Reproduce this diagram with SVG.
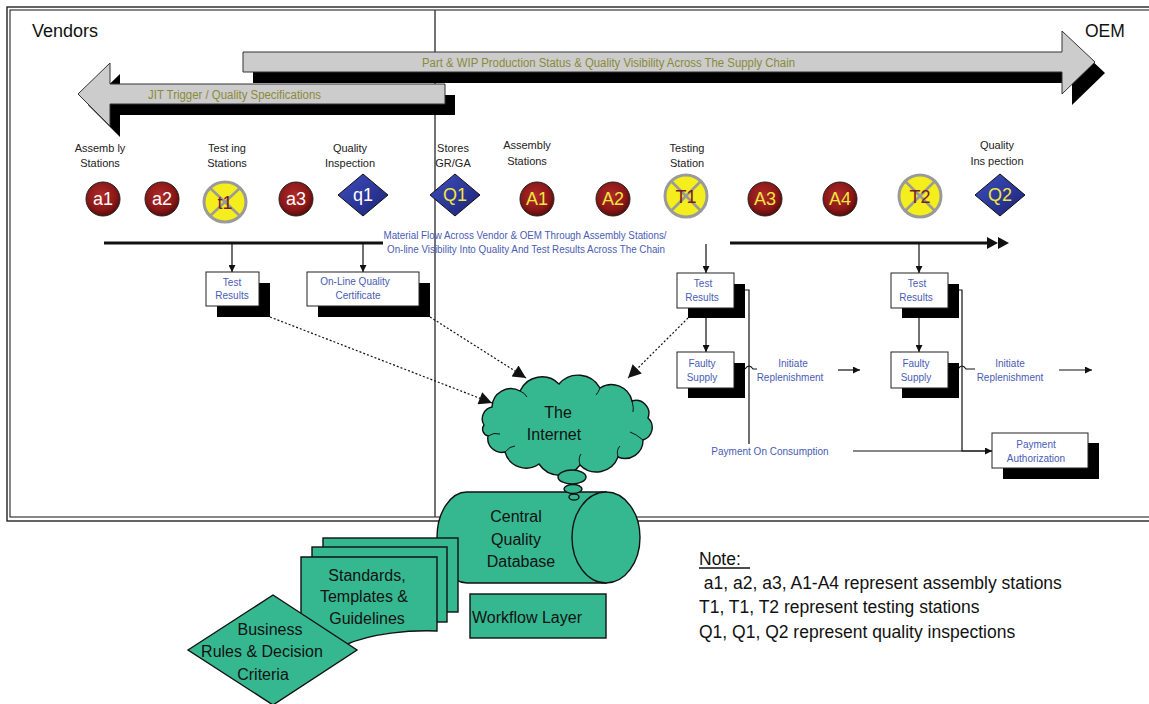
<svg xmlns="http://www.w3.org/2000/svg" width="1149" height="704" viewBox="0 0 1149 704">
<defs>
<style>
text{font-family:"Liberation Sans",Arial,sans-serif}
.lbl{font-size:11px;fill:#222;text-anchor:middle}
.blue{font-size:10px;fill:#4a5cb4;text-anchor:middle}
.olive{font-size:12px;fill:#8a8a3a}
.big{font-size:16px;fill:#111;text-anchor:middle}
.note{font-size:17.5px;fill:#111}
.box{fill:#fff;stroke:#222;stroke-width:1}
.sh{fill:#000}
.grn{fill:#35b890;stroke:#111;stroke-width:1.4}
.red{fill:url(#gRed);stroke:#222;stroke-width:1}
.yel{fill:#f4ee1c;stroke:#9a9a9a;stroke-width:3}
.x{stroke:#9a9a9a;stroke-width:2.5}
.dia{fill:url(#gBlue);stroke:#111;stroke-width:1}
.nt{font-size:18px;text-anchor:middle}
.ln{stroke:#111;stroke-width:1.2;fill:none}
.dot{stroke:#111;stroke-width:1.2;fill:none;stroke-dasharray:2,2}
.curl{stroke:#111;stroke-width:1;fill:none}
</style>
<radialGradient id="gRed" cx="45%" cy="40%" r="60%"><stop offset="0" stop-color="#b02a2a"/><stop offset="0.7" stop-color="#8a1818"/><stop offset="1" stop-color="#5a0a0a"/></radialGradient>
<linearGradient id="gBlue" x1="0" y1="0" x2="1" y2="1"><stop offset="0" stop-color="#3f4fbf"/><stop offset="1" stop-color="#1b2275"/></linearGradient>
<marker id="ah" viewBox="0 0 10 10" refX="10" refY="5" markerWidth="8" markerHeight="7" markerUnits="userSpaceOnUse" orient="auto"><path d="M0,0 L10,5 L0,10 Z" fill="#111"/></marker>
<marker id="ahb" viewBox="0 0 10 10" refX="10" refY="5" markerWidth="15" markerHeight="13" markerUnits="userSpaceOnUse" orient="auto"><path d="M0,0 L10,5 L0,10 Z" fill="#111"/></marker>
</defs>
<rect width="1149" height="704" fill="#fff"/>

<g id="frame">
<rect x="7" y="7" width="1160" height="514" fill="none" stroke="#111" stroke-width="1.3"/>
<rect x="10" y="10" width="1160" height="507" fill="none" stroke="#111" stroke-width="1"/>
<line x1="435" y1="10" x2="435" y2="517" stroke="#444" stroke-width="1.5"/>
<text x="32" y="37" font-size="18" fill="#111">Vendors</text>
<text x="1085" y="37" font-size="17.5" fill="#111">OEM</text>
</g>

<g id="arrow-visibility">
<polygon class="sh" points="253,63 1072,63 1072,42 1105,73 1072,105 1072,83 253,83"/>
<polygon points="243,52 1062,52 1062,31 1095,62 1062,94 1062,72 243,72" fill="#cccccc" stroke="#333" stroke-width="1"/>
<text class="olive" x="422" y="67" textLength="373" lengthAdjust="spacingAndGlyphs">Part &amp; WIP Production Status &amp; Quality Visibility Across The Supply Chain</text>
</g>
<g id="arrow-jit">
<polygon class="sh" points="455,95 120,95 120,74 88,105 120,137 120,115 455,115"/>
<polygon points="445,84 110,84 110,63 78,94 110,126 110,104 445,104" fill="#cccccc" stroke="#333" stroke-width="1"/>
<text class="olive" x="148" y="99" textLength="173" lengthAdjust="spacingAndGlyphs">JIT Trigger / Quality Specifications</text>
</g>

<g id="station-labels">
<text class="lbl" x="100" y="152">Assemb ly</text><text class="lbl" x="100" y="167">Stations</text>
<text class="lbl" x="227" y="152">Test ing</text><text class="lbl" x="227" y="167">Stations</text>
<text class="lbl" x="350" y="152">Quality</text><text class="lbl" x="350" y="167">Inspection</text>
<text class="lbl" x="453" y="152">Stores</text><text class="lbl" x="453" y="167">GR/GA</text>
<text class="lbl" x="527" y="149">Assembly</text><text class="lbl" x="527" y="165">Stations</text>
<text class="lbl" x="687" y="152">Testing</text><text class="lbl" x="687" y="167">Station</text>
<text class="lbl" x="997" y="149">Quality</text><text class="lbl" x="997" y="165">Ins pection</text>
</g>

<g id="a1"><circle class="red" cx="103" cy="199" r="17"/><text class="nt" x="103" y="205" fill="#fff">a1</text></g>
<g id="a2"><circle class="red" cx="162" cy="199" r="17"/><text class="nt" x="162" y="205" fill="#fff">a2</text></g>
<g id="t1"><ellipse class="yel" cx="225" cy="202" rx="21" ry="20"/><line class="x" x1="210" y1="188" x2="240" y2="216"/><line class="x" x1="240" y1="188" x2="210" y2="216"/><text class="nt" x="225" y="209" fill="#7a1c1c">t1</text></g>
<g id="a3"><circle class="red" cx="296" cy="199" r="17"/><text class="nt" x="296" y="205" fill="#fff">a3</text></g>
<g id="q1"><polygon class="dia" points="338,195 363,174 388,195 363,216"/><text class="nt" x="363" y="201" fill="#fff">q1</text></g>
<g id="Q1"><polygon class="dia" points="430,195 455,174 480,195 455,216"/><text class="nt" x="455" y="201" fill="#f2e640">Q1</text></g>
<g id="A1"><circle class="red" cx="537" cy="199" r="17"/><text class="nt" x="537" y="205" fill="#f2e640">A1</text></g>
<g id="A2"><circle class="red" cx="613" cy="199" r="17"/><text class="nt" x="613" y="205" fill="#f2e640">A2</text></g>
<g id="T1"><ellipse class="yel" cx="686" cy="196" rx="21" ry="21"/><line class="x" x1="671" y1="181" x2="701" y2="211"/><line class="x" x1="701" y1="181" x2="671" y2="211"/><text class="nt" x="686" y="203" fill="#7a1c1c">T1</text></g>
<g id="A3"><circle class="red" cx="765" cy="199" r="17"/><text class="nt" x="765" y="205" fill="#f2e640">A3</text></g>
<g id="A4"><circle class="red" cx="840" cy="199" r="17"/><text class="nt" x="840" y="205" fill="#f2e640">A4</text></g>
<g id="T2"><ellipse class="yel" cx="920" cy="196" rx="21" ry="21"/><line class="x" x1="905" y1="181" x2="935" y2="211"/><line class="x" x1="935" y1="181" x2="905" y2="211"/><text class="nt" x="920" y="203" fill="#7a1c1c">T2</text></g>
<g id="Q2"><polygon class="dia" points="975,195 1000,174 1025,195 1000,216"/><text class="nt" x="1000" y="201" fill="#f2e640">Q2</text></g>

<g id="connectors">
<line x1="104" y1="243" x2="383" y2="243" stroke="#111" stroke-width="3"/>
<line x1="730" y1="243" x2="988" y2="243" stroke="#111" stroke-width="3"/>
<polygon points="987,237 998,243 987,249" fill="#111"/>
<polygon points="998,237 1009,243 998,249" fill="#111"/>
<text class="blue" x="525" y="239" textLength="283" lengthAdjust="spacingAndGlyphs">Material Flow Across Vendor &amp; OEM Through Assembly Stations/</text>
<text class="blue" x="526" y="253" textLength="278" lengthAdjust="spacingAndGlyphs">On-line Visibility Into Quality And Test Results Across The Chain</text>
<line class="ln" x1="232" y1="244" x2="232" y2="272" marker-end="url(#ah)"/>
<line class="ln" x1="363" y1="244" x2="363" y2="272" marker-end="url(#ah)"/>
<line class="ln" x1="706" y1="244" x2="706" y2="273" marker-end="url(#ah)"/>
<line class="ln" x1="919" y1="244" x2="919" y2="273" marker-end="url(#ah)"/>
<line class="ln" x1="706" y1="318" x2="706" y2="352" marker-end="url(#ah)"/>
<line class="ln" x1="919" y1="318" x2="919" y2="352" marker-end="url(#ah)"/>
<path class="ln" d="M734,290 H749 V444"/>
<path class="ln" d="M948,290 H962 V451 H992" marker-end="url(#ah)"/>
<path class="ln" d="M853,451 H992"/>
<path class="ln" d="M745,369 Q749,363 753,369 L757,369"/>
<path class="ln" d="M958,369 Q962,363 966,369 L975,369"/>
<line class="ln" x1="838" y1="370" x2="860" y2="370" marker-end="url(#ah)"/>
<line class="ln" x1="1059" y1="370" x2="1092" y2="370" marker-end="url(#ah)"/>
<text class="blue" x="793" y="367">Initiate</text><text class="blue" x="790" y="381">Replenishment</text>
<text class="blue" x="1010" y="367">Initiate</text><text class="blue" x="1010" y="381">Replenishment</text>
<text class="blue" x="770" y="455">Payment On Consumption</text>
<line class="dot" x1="270" y1="317" x2="492" y2="403" marker-end="url(#ahb)"/>
<line class="dot" x1="430" y1="317" x2="526" y2="378" marker-end="url(#ahb)"/>
<line class="dot" x1="688" y1="318" x2="628" y2="378" marker-end="url(#ahb)"/>
</g>

<g id="test-results-v"><rect class="sh" x="217" y="283" width="53" height="34"/><rect class="box" x="206" y="272" width="53" height="34"/><text class="blue" x="232" y="286">Test</text><text class="blue" x="232" y="299">Results</text></g>
<g id="online-cert"><rect class="sh" x="318" y="283" width="112" height="34"/><rect class="box" x="307" y="272" width="112" height="34"/><text class="blue" x="355" y="285">On-Line Quality</text><text class="blue" x="358" y="299">Certificate</text></g>
<g id="test-results-1"><rect class="sh" x="688" y="284" width="57" height="34"/><rect class="box" x="677" y="273" width="57" height="35"/><text class="blue" x="703" y="287">Test</text><text class="blue" x="702" y="301">Results</text></g>
<g id="faulty-1"><rect class="sh" x="688" y="363" width="57" height="35"/><rect class="box" x="677" y="352" width="57" height="36"/><text class="blue" x="702" y="367">Faulty</text><text class="blue" x="702" y="381">Supply</text></g>
<g id="test-results-2"><rect class="sh" x="902" y="284" width="57" height="34"/><rect class="box" x="891" y="273" width="57" height="35"/><text class="blue" x="917" y="287">Test</text><text class="blue" x="916" y="301">Results</text></g>
<g id="faulty-2"><rect class="sh" x="902" y="363" width="57" height="35"/><rect class="box" x="891" y="352" width="57" height="36"/><text class="blue" x="916" y="367">Faulty</text><text class="blue" x="916" y="381">Supply</text></g>
<g id="payment-auth"><rect class="sh" x="1003" y="443" width="96" height="36"/><rect class="box" x="992" y="433" width="96" height="35"/><text class="blue" x="1036" y="448">Payment</text><text class="blue" x="1036" y="462">Authorization</text></g>

<g id="internet">
<path class="grn" d="M484,425 A12,12 0 0 1 492,407 A19,19 0 0 1 520,391 A24,24 0 0 1 559,384 A25,25 0 0 1 600,388 A21,21 0 0 1 632,401 A13,13 0 0 1 648,418 A13,13 0 0 1 643,440 A18,18 0 0 1 618,457 A23,23 0 0 1 580,465 A25,25 0 0 1 539,464 A22,22 0 0 1 505,452 A14,14 0 0 1 488,436 A7,7 0 0 1 484,425 Z"/>
<path class="curl" d="M488,436 Q494,432 500,434"/>
<path class="curl" d="M505,452 Q510,446 515,446"/>
<path class="curl" d="M580,465 Q578,458 581,454"/>
<path class="curl" d="M618,457 Q616,450 620,446"/>
<path class="curl" d="M643,440 Q636,434 630,432"/>
<path class="curl" d="M632,401 Q634,408 633,412"/>
<path class="curl" d="M600,388 Q598,393 596,395"/>
<path class="curl" d="M520,391 Q525,393 527,397"/>
<text class="big" x="558" y="418">The</text>
<text class="big" x="554" y="440">Internet</text>
</g>

<g id="database">
<path class="grn" d="M467,492 H606 V583 H467 A30,45.5 0 0 1 467,492 Z"/>
<ellipse class="grn" cx="606" cy="537.5" rx="34" ry="45.5"/>
<text class="big" x="516" y="522">Central</text>
<text class="big" x="516" y="545">Quality</text>
<text class="big" x="521" y="567">Database</text>
<ellipse class="grn" cx="572" cy="477" rx="14" ry="7" stroke-width="1"/>
<ellipse class="grn" cx="573" cy="489" rx="9" ry="4.5" stroke-width="1"/>
<ellipse class="grn" cx="574" cy="497" rx="5" ry="3" stroke-width="1"/>
</g>

<g id="standards">
<rect class="grn" x="323" y="538" width="135" height="74"/>
<rect class="grn" x="312" y="547" width="135" height="75"/>
<path class="grn" d="M301,557 H437 V631 C410,630 372,633 345,645 C330,652 312,652 301,650 Z"/>
<text class="big" x="367" y="581">Standards,</text>
<text class="big" x="364" y="602">Templates &amp;</text>
<text class="big" x="367" y="624">Guidelines</text>
</g>

<g id="business-rules">
<polygon class="grn" points="188,650 273,595 357,650 273,705"/>
<text class="big" x="270" y="635">Business</text>
<text class="big" x="262" y="657">Rules &amp; Decision</text>
<text class="big" x="263" y="680">Criteria</text>
</g>

<g id="workflow">
<rect class="grn" x="470" y="594" width="136" height="44"/>
<text class="big" x="527" y="623">Workflow Layer</text>
</g>

<g id="note">
<text class="note" x="699" y="565">Note:</text>
<line x1="699" y1="568" x2="750" y2="568" stroke="#111" stroke-width="1.3"/>
<text class="note" x="699" y="589" xml:space="preserve"> a1, a2, a3, A1-A4 represent assembly stations</text>
<text class="note" x="699" y="613">T1, T1, T2 represent testing stations</text>
<text class="note" x="699" y="638">Q1, Q1, Q2 represent quality inspections</text>
</g>
</svg>
